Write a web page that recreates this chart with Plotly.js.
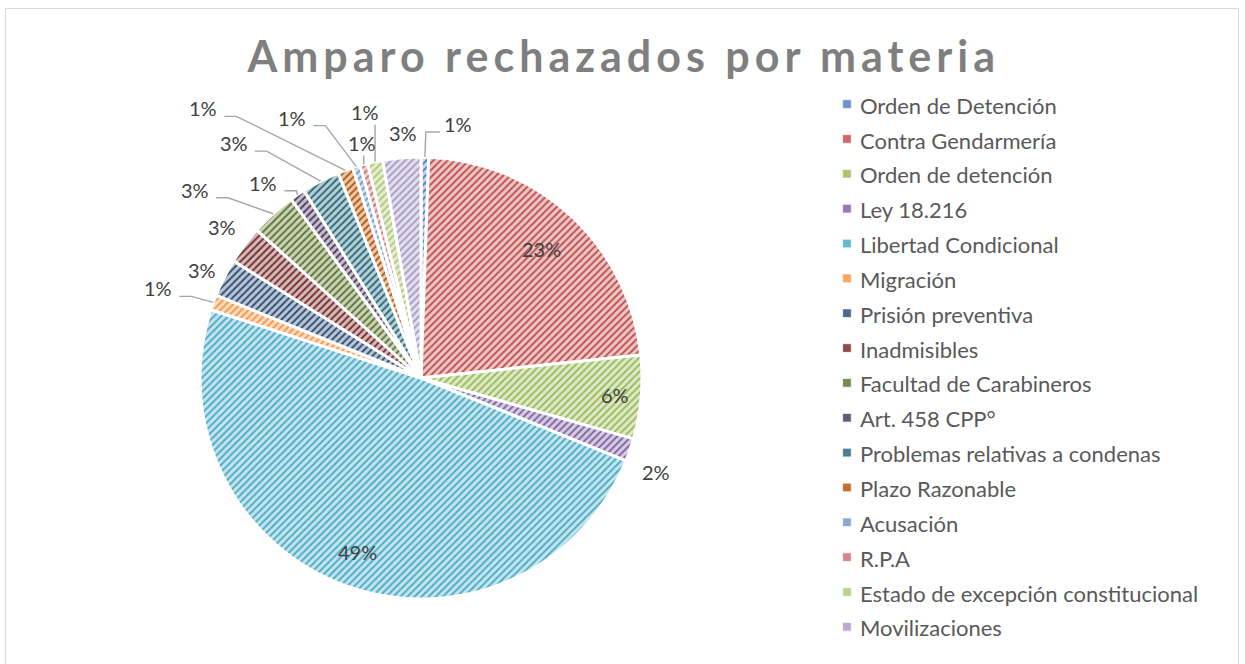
<!DOCTYPE html>
<html>
<head>
<meta charset="utf-8">
<script src="https://cdn.plot.ly/plotly-3.0.1.min.js"></script>
<style>
  html, body { margin: 0; padding: 0; background: #ffffff; }
  #frame { position: absolute; left: 5px; top: 8px; width: 1234px; height: 700px; border: 1px solid #d9d9d9; box-sizing: border-box; }
  #chart { position: absolute; left: 0; top: 0; width: 1245px; height: 664px; }
  .gtitle { letter-spacing: 5px; }
  .legendpie { transform: translate(27px, 0px) scale(0.72); }
</style>
</head>
<body>
<div id="frame"></div>
<div id="chart"></div>
<script>
// ---------- data ----------
const categories = [
  "Orden de Detención",
  "Contra Gendarmería",
  "Orden de detención",
  "Ley 18.216",
  "Libertad Condicional",
  "Migración",
  "Prisión preventiva",
  "Inadmisibles",
  "Facultad de Carabineros",
  "Art. 458 CPP°",
  "Problemas relativas a condenas",
  "Plazo Razonable",
  "Acusación",
  "R.P.A",
  "Estado de excepción constitucional",
  "Movilizaciones"
];
const values = [1, 41, 11, 3, 88, 2, 5, 5, 6, 2, 5, 2, 1, 1, 2, 5];

// ---------- style ----------
const colors = [
  "#4F81BD", "#C0504D", "#9BBB59", "#8064A2", "#4BACC6", "#F79646",
  "#2C4D75", "#772C2A", "#5F7530", "#4D3B62", "#276A7C", "#B65708",
  "#729ACA", "#CD7371", "#AFC97A", "#A99BC6"
];
// label placement per slice: inside (radius fraction) or outside (pixel offset from slice edge + leader style)
const labelPlacement = [
  { out: [33, -33], lead: "left" },
  { inR: 0.80 },
  { inR: 0.88 },
  { out: [26, 22], lead: "none" },
  { inR: 0.84 },
  { out: [-55, -14], lead: "right" },
  { out: [-22, -8], lead: "none" },
  { out: [-23, -18], lead: "none" },
  { out: [-78, -24], lead: "right" },
  { out: [-34, -12], lead: "right" },
  { out: [-87, -38], lead: "right" },
  { out: [-142, -62], lead: "right" },
  { out: [-64, -49], lead: "right" },
  { out: [-2, -22], lead: "down" },
  { out: [-10, -50], lead: "down" },
  { out: [1, -25], lead: "none" }
];

const W = 1245, H = 664;
const CX = 421, CY = 378, R = 221;   // pie centre / radius in pixels
const FONT = "Lato, 'Open Sans', sans-serif";
const LABEL_COLOR = "#404040";
const LINE_COLOR = "#a6a6a6";

function tint(hex, t) {
  const r = parseInt(hex.slice(1, 3), 16), g = parseInt(hex.slice(3, 5), 16), b = parseInt(hex.slice(5, 7), 16);
  const m = c => Math.round(c + (255 - c) * t);
  return "rgb(" + m(r) + "," + m(g) + "," + m(b) + ")";
}
const px = x => x / W;
const py = y => 1 - y / H;

const total = values.reduce((a, b) => a + b, 0);
const annotations = [];
const shapes = [];
let cum = 0;
values.forEach((v, i) => {
  const mid = 2 * Math.PI * (cum + v / 2) / total;
  cum += v;
  const pct = Math.round(100 * v / total) + "%";
  const pl = labelPlacement[i];
  let lx, ly;
  if (pl.inR) {
    lx = CX + pl.inR * R * Math.sin(mid);
    ly = CY - pl.inR * R * Math.cos(mid);
  } else {
    const ax = CX + R * Math.sin(mid);
    const ay = CY - R * Math.cos(mid);
    lx = ax + pl.out[0];
    ly = ay + pl.out[1];
    let pts = null;
    if (pl.lead === "right") {
      const hx = lx + 21, hy = ly + 8;
      pts = [[hx, hy], [hx + 12, hy], [ax, ay]];
    } else if (pl.lead === "left") {
      const hx = lx - 18, hy = ly + 8;
      pts = [[hx, hy], [hx - 14, hy], [ax, ay]];
    } else if (pl.lead === "down") {
      pts = [[ax, ly + 13], [ax, ay]];
    }
    if (pts) {
      shapes.push({
        type: "path",
        xref: "paper", yref: "paper",
        path: "M" + pts.map(p => px(p[0]) + "," + py(p[1])).join(" L"),
        line: { color: LINE_COLOR, width: 1.4 }
      });
    }
  }
  annotations.push({
    xref: "paper", yref: "paper",
    x: px(lx), y: py(ly),
    xanchor: "center", yanchor: "middle",
    text: pct,
    showarrow: false,
    font: { family: FONT, size: 20, color: LABEL_COLOR }
  });
});

const trace = {
  type: "pie",
  labels: categories.map(c => '<span style="font-size:22px">' + c + '</span>'),
  values: values,
  sort: false,
  direction: "clockwise",
  rotation: 0,
  domain: { x: [px(CX - R), px(CX + R)], y: [py(CY + R), py(CY - R)] },
  marker: {
    colors: colors.map(c => tint(c, 0.68)),
    line: { color: "#ffffff", width: 3 },
    pattern: {
      shape: "/",
      fgcolor: colors,
      bgcolor: colors.map(c => tint(c, 0.68)),
      size: 5,
      solidity: 0.38,
      fillmode: "replace"
    }
  },
  textinfo: "none",
  hoverinfo: "label+percent"
};

const layout = {
  width: W,
  height: H,
  margin: { l: 0, r: 0, t: 0, b: 0 },
  paper_bgcolor: "rgba(0,0,0,0)",
  plot_bgcolor: "rgba(0,0,0,0)",
  font: { family: FONT, color: LABEL_COLOR },
  title: {
    text: "Amparo rechazados por materia",
    font: { family: FONT, size: 43, color: "#7f7f7f", weight: "bold" },
    x: 0.501,
    xanchor: "center",
    xref: "paper",
    y: 0.914,
    yanchor: "middle",
    yref: "container"
  },
  showlegend: true,
  legend: {
    x: 0.6586,
    xanchor: "left",
    y: 0.877,
    yanchor: "top",
    font: { family: FONT, size: 24.5, color: "#595959" },
    bgcolor: "rgba(0,0,0,0)",
    borderwidth: 0
  },
  annotations: annotations,
  shapes: shapes
};

Plotly.newPlot("chart", [trace], layout, { displayModeBar: false, staticPlot: true }).then(gd => {
  // legend keys: small filled squares in each slice colour
  gd.querySelectorAll(".legendpie").forEach((el, i) => {
    el.style.fill = tint(colors[i % colors.length], 0.15);
    el.style.stroke = "#ffffff";
    el.style.strokeWidth = "1px";
  });
});
</script>
</body>
</html>
